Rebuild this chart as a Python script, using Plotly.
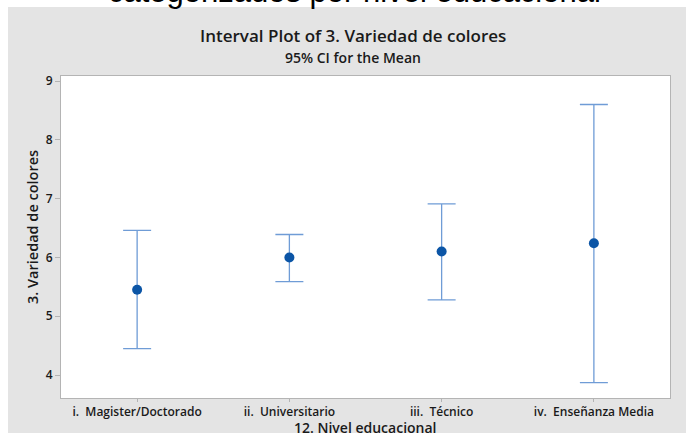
import plotly.graph_objects as go

# Education level groups and 95% confidence intervals for the mean score
categories = ["i.  Magister/Doctorado", "ii.  Universitario", "iii.  Técnico", "iv.  Enseñanza Media"]
means = [5.45, 6.00, 6.10, 6.24]
ci_upper = [6.46, 6.39, 6.91, 8.60]
ci_lower = [4.45, 5.59, 5.28, 3.87]
y_ticks = [4, 5, 6, 7, 8, 9]

W, H = 686, 436
ML, MR, MT, MB = 61, 16, 76, 38
plot_h = H - MT - MB
plot_w = W - ML - MR


def py(px_from_top):
    """Convert a pixel row (from the top of the page) to paper y."""
    return (H - MB - px_from_top) / plot_h


def px(px_from_left):
    return (px_from_left - ML) / plot_w


FONT = "Open Sans"
DARK = "#1a1a1a"
GRAY_BG = "#e4e4e4"

fig = go.Figure()
fig.add_trace(go.Scatter(
    x=categories,
    y=means,
    mode="markers",
    marker=dict(color="#0b55a6", size=10),
    error_y=dict(
        type="data",
        symmetric=False,
        array=[u - m for u, m in zip(ci_upper, means)],
        arrayminus=[m - l for m, l in zip(means, ci_lower)],
        color="#6f9cd6",
        thickness=1.3,
        width=14,
    ),
    showlegend=False,
))

# White margins around the grey chart panel
shapes = [
    dict(type="rect", xref="paper", yref="paper", x0=px(0), x1=px(W), y0=py(0), y1=py(7),
         fillcolor="white", line_width=0, layer="below"),
    dict(type="rect", xref="paper", yref="paper", x0=px(0), x1=px(8), y0=py(0), y1=py(H),
         fillcolor="white", line_width=0, layer="below"),
    dict(type="rect", xref="paper", yref="paper", x0=px(0), x1=px(W), y0=py(433), y1=py(H),
         fillcolor="white", line_width=0, layer="below"),
]

annotations = [
    dict(text="categorizados por nivel educacional", xref="paper", yref="paper",
         x=px(354), y=py(-8.2), xanchor="center", yanchor="middle", showarrow=False,
         font=dict(family="Liberation Sans", size=31, color="black")),
    dict(text="Interval Plot of 3. Variedad de colores", xref="paper", yref="paper",
         x=px(353), y=py(36), xanchor="center", yanchor="middle", showarrow=False,
         font=dict(family=FONT, size=17, color=DARK, weight=600)),
    dict(text="95% CI for the Mean", xref="paper", yref="paper",
         x=px(353), y=py(57), xanchor="center", yanchor="middle", showarrow=False,
         font=dict(family=FONT, size=14, color=DARK, weight=600)),
    dict(text="12. Nivel educacional", xref="paper", yref="paper",
         x=px(365), y=py(427.5), xanchor="center", yanchor="middle", showarrow=False,
         font=dict(family=FONT, size=14, color=DARK, weight=600)),
    dict(text="3. Variedad de colores", xref="paper", yref="paper",
         x=px(32), y=py(227), xanchor="center", yanchor="middle", showarrow=False,
         textangle=-90, font=dict(family=FONT, size=14.5, color=DARK, weight=600)),
]

fig.update_layout(
    width=W, height=H,
    margin=dict(l=ML, r=MR, t=MT, b=MB, pad=0),
    paper_bgcolor=GRAY_BG,
    plot_bgcolor="white",
    shapes=shapes,
    annotations=annotations,
    font=dict(family=FONT, color=DARK),
)

fig.update_xaxes(
    range=[-0.5, 3.5],
    showgrid=False, zeroline=False,
    showline=True, mirror=True, linecolor="#b4b4b4", linewidth=1,
    ticks="outside", ticklen=3, tickcolor="#b4b4b4",
    tickfont=dict(family=FONT, size=12, color=DARK, weight=600),
)
fig.update_yaxes(
    range=[3.61, 9.085],
    tickvals=y_ticks,
    showgrid=False, zeroline=False,
    showline=True, mirror=True, linecolor="#b4b4b4", linewidth=1,
    ticks="outside", ticklen=5, tickcolor="#b4b4b4",
    tickfont=dict(family=FONT, size=12, color=DARK, weight=600),
)

fig.write_html("out.html")
